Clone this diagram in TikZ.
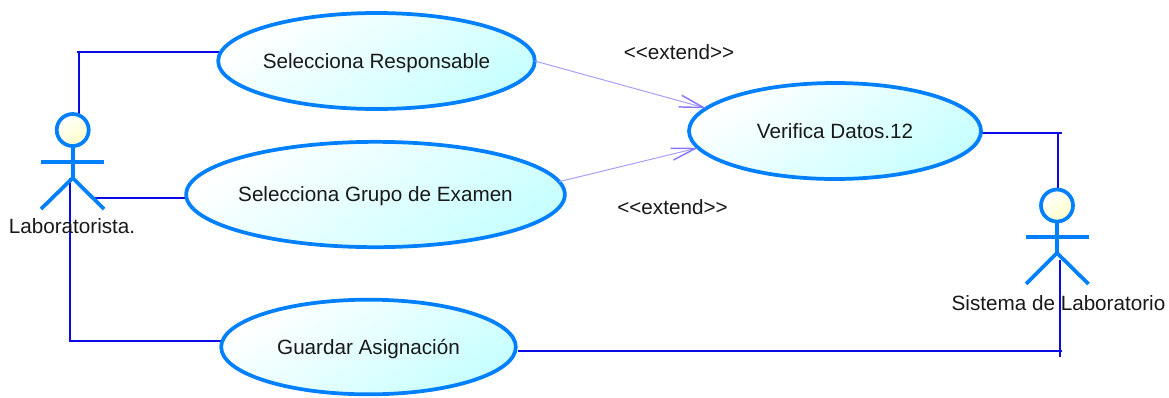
\documentclass[tikz,border=0pt]{standalone}
\usepackage{fontspec}
\setmainfont{Liberation Sans}
\usetikzlibrary{arrows.meta,shapes.geometric,backgrounds}
\definecolor{figline}{RGB}{0,128,255}
\definecolor{assocblue}{RGB}{10,10,230}
\definecolor{extline}{RGB}{165,160,255}
\definecolor{exttip}{RGB}{135,120,255}
\definecolor{casefill}{RGB}{200,255,255}
\definecolor{headfill}{RGB}{255,255,200}

\begin{document}
\begin{tikzpicture}[x=0.75pt,y=0.75pt,yscale=-1,xscale=1,
    font=\fontsize{15.5pt}{18pt}\selectfont,
    usecase/.style={ellipse,draw=figline,line width=2.8pt,inner ysep=0pt,inner xsep=-15pt,outer sep=0pt,
      top color=white,bottom color=casefill,shading angle=35,text=black!90,text depth=0pt},
    actorhead/.style={circle,draw=figline,line width=2.8pt,inner sep=0pt,outer sep=0pt,
      minimum size=24pt,top color=white,bottom color=headfill,shading angle=35},
    actorline/.style={draw=figline,line width=2.8pt},
    assoc/.style={draw=assocblue,line width=1.3pt},
    extendline/.style={draw=extline,line width=0.75pt,
      -{Straight Barb[length=18pt,width=9pt,line width=1.1pt,color=exttip]}},
    lbl/.style={inner sep=0.75pt,text=black!90}]
      \useasboundingbox (0,0) rectangle (1169,397);

      % Use cases
      \draw (376.5,61) node [usecase,minimum width=237.5pt,minimum height=72pt] (resp) {Selecciona Responsable};
      \draw (375.5,194.5) node [usecase,minimum width=284pt,minimum height=79pt] (grupo) {Selecciona Grupo de Examen};
      \draw (368.5,347) node [usecase,minimum width=221pt,minimum height=71pt] (guardar) {Guardar Asignación};
      \draw (835,131) node [usecase,minimum width=219pt,minimum height=72pt] (verif) {Verifica Datos.12};

      % Actors
      \draw (72.7,130) node [actorhead] (labhead) {};
      \draw (1057,205.5) node [actorhead] (sishead) {};
      \coordinate (labhip) at (72.7,178);
      \coordinate (siship) at (1057,253);
      \draw [actorline] (labhead) -- (labhip);
      \draw [actorline] (41,162) -- (104,162);
      \draw [actorline] (41,209) -- (labhip) -- (104,209);
      \draw [actorline] (sishead) -- (siship);
      \draw [actorline] (1026,237) -- (1088.5,237);
      \draw [actorline] (1026,284) -- (siship) -- (1088.5,284);

      % Text Node
      \draw (72,226) node [lbl] (lablabel) {Laboratorista.};
      \draw (1058.5,303) node [lbl] (sislabel) {Sistema de Laboratorio};
      \draw (679,52) node [lbl] (ext1) {{<}{<}extend{>}{>}};
      \draw (672.5,207) node [lbl] (ext2) {{<}{<}extend{>}{>}};

      % Connectors, behind the shapes
      \coordinate (c1) at (79,52);
      \coordinate (c2) at (95,198);
      \coordinate (c3) at (70,341);
      \coordinate (c4) at (1058,133);
      \coordinate (c5) at (518,351);
      \coordinate (c6) at (1060,351);
      \begin{scope}[on background layer]
      \draw [assoc] (labhead -| c1) -- (c1) -- (c1 -| resp);
      \draw [assoc] (76.5,52) -- (c1);
      \draw [assoc] (c2) -- (c2 -| grupo);
      \draw [assoc] (labhip -| c3) -- (c3) -- (c3 -| guardar);
      \draw [assoc] (c4 -| verif) -- (c4) -- (sishead -| c4);
      \draw [assoc] (c4) -- (1062,133);
      \end{scope}
      \draw [assoc] (c5) -- (c6) -- (1062,351);
      \draw [assoc] (1060,260) -- (1060,357);

      % Extend arrows
      \draw [extendline] (resp.east) -- (verif.170);
      \draw [extendline] (grupo.4) -- (verif.187);
\end{tikzpicture}
\end{document}
